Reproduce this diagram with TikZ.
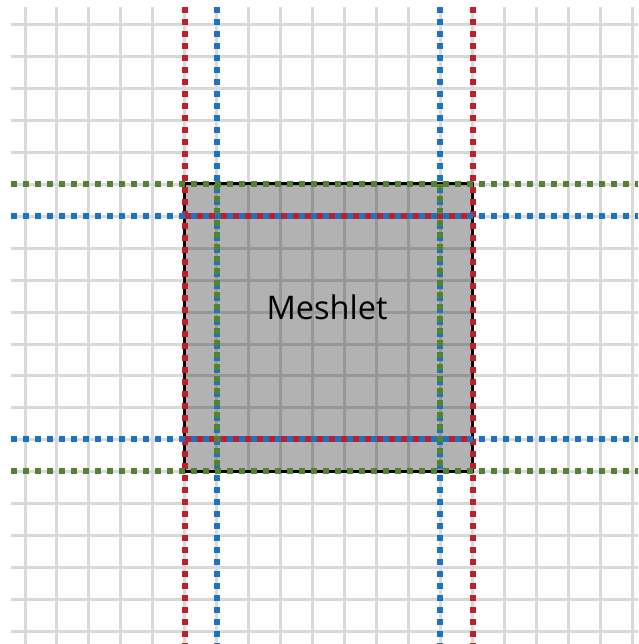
\documentclass[tikz,border=0pt]{standalone}
\usepackage{fontspec}
\setmainfont{Open Sans}
\definecolor{gridgray}{RGB}{217,217,217}
\definecolor{dotred}{RGB}{192,30,40}
\definecolor{dotblue}{RGB}{28,115,192}
\definecolor{dotgreen}{RGB}{84,130,53}
\tikzset{
  gridline/.style={draw=gridgray, line width=3pt},
  dotline/.style={line width=6pt, dash pattern=on 6pt off 6pt},
  meshlabel/.style={font=\fontsize{32.5}{38}\selectfont, text=black}
}
\begin{document}
\begin{tikzpicture}[x=1pt,y=-1pt]
\useasboundingbox (0,0) rectangle (638,644);
\fill[white] (0,0) rectangle (638,644);
% grid
\foreach \k in {0,...,19}{
  \draw[gridline] ({25+31.95*\k},7) -- ({25+31.95*\k},644);
  \draw[gridline] (11,{24.5+31.95*\k}) -- (638,{24.5+31.95*\k});
}
% meshlet box
\coordinate (tl) at (184.5,184);
\coordinate (br) at (472.5,471);
\fill[fill=black, fill opacity=0.3] (tl) rectangle (br);
\draw[black, line width=3pt] (tl) rectangle (br);
% outer dotted lines
\draw[dotline, dotred]  (184.5,7) -- (184.5,644);
\draw[dotline, dotred]  (472.5,7) -- (472.5,644);
\draw[dotline, dotblue] (216.5,7) -- (216.5,644);
\draw[dotline, dotblue] (439.5,7) -- (439.5,644);
\draw[dotline, dotgreen] (11,184) -- (638,184);
\draw[dotline, dotgreen] (11,471) -- (638,471);
\draw[dotline, dotblue]  (11,215.5) -- (638,215.5);
\draw[dotline, dotblue]  (11,439) -- (638,439);
% inner dotted lines
\draw[dotline, dotred]   (184.5,215.5) -- (472.5,215.5);
\draw[dotline, dotred]   (184.5,439) -- (472.5,439);
\draw[dotline, dotgreen] (216.5,184) -- (216.5,471);
\draw[dotline, dotgreen] (439.5,184) -- (439.5,471);
% label
\node[meshlabel] (label) at (327,307) {Meshlet};
\end{tikzpicture}
\end{document}
